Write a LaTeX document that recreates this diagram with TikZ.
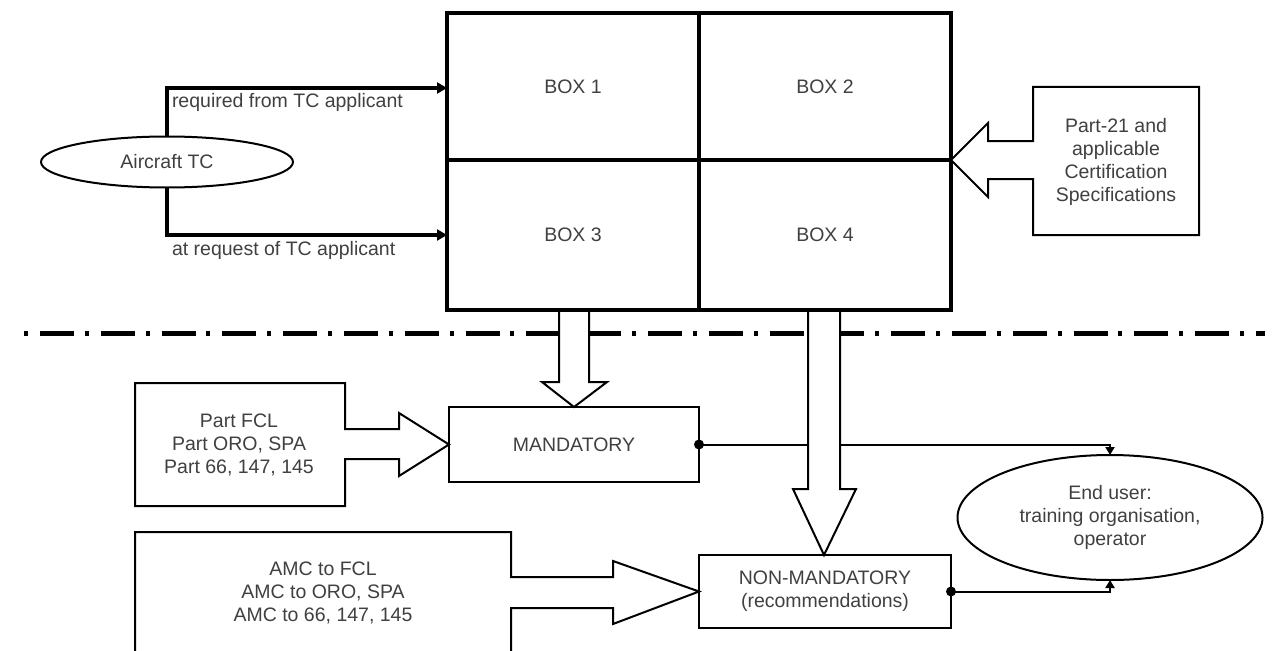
\documentclass[tikz,border=0pt]{standalone}
\usepackage{fontspec}
\setmainfont{Liberation Sans}
\usetikzlibrary{arrows.meta,shapes.geometric,backgrounds}
\begin{document}
\begin{tikzpicture}[x=1pt,y=-1pt,
  txt/.style={text=black!75,font=\fontsize{19.5}{22.7}\selectfont,align=center,inner sep=0pt,outer sep=0pt},
  cell/.style={draw,line width=3.5pt,minimum width=252pt,txt},
  thinbox/.style={draw,line width=2pt,txt},
  blockshape/.style={draw,line width=2pt,fill=white,line join=miter},
  tcarrow/.style={line width=3.5pt,-{Triangle[length=10pt,width=11pt]}},
  outarrow/.style={line width=2pt,-{Triangle[length=8pt,width=9pt]}},
  sepline/.style={line width=5pt,dash pattern=on 4pt off 12pt on 34pt off 10.8pt}
]
\useasboundingbox (0,0) rectangle (1273,650);

% --- big box (four cells)
\node[cell,minimum height=147pt] (b1) at (573,86.5) {BOX 1};
\node[cell,minimum height=147pt] (b2) at (825,86.5) {BOX 2};
\node[cell,minimum height=150pt] (b3) at (573,235) {BOX 3};
\node[cell,minimum height=150pt] (b4) at (825,235) {BOX 4};

% --- Aircraft TC
\node[draw,ellipse,line width=2pt,minimum width=252pt,minimum height=51pt,txt] (ac) at (167,162) {Aircraft TC};
\coordinate (up) at (167,88);
\coordinate (dn) at (167,235);
\draw[tcarrow] (ac.north) -- (up) -- (b1.west |- up);
\draw[tcarrow] (ac.south) -- (dn) -- (b3.west |- dn);
\node[txt,anchor=west] (lreq) at (172,102) {required from TC applicant};
\node[txt,anchor=west] (lat) at (172,250) {at request of TC applicant};

% --- lower boxes
\node[thinbox,minimum width=250pt,minimum height=75pt] (mand) at (574,444.5) {MANDATORY};
\node[thinbox,minimum width=252pt,minimum height=73pt] (nmand) at (825,591.5) {NON-MANDATORY\\(recommendations)};
\node[draw,ellipse,line width=2pt,minimum width=305pt,minimum height=125pt,txt] (eu) at (1110,517.5) {End user:\\training organisation,\\operator};

% --- Part-21 box with block arrow
\draw[blockshape] (1033,141) -- (1033,87) -- (1199,87) -- (1199,235) -- (1033,235) -- (1033,179)
  -- (988,179) -- (988,197) -- (b2.south east) -- (988,123) -- (988,141) -- cycle;
\node[txt] (p21) at (1116,162) {Part-21 and\\applicable\\Certification\\Specifications};

% --- Part FCL box with block arrow
\draw[blockshape] (345,429) -- (345,383) -- (135,383) -- (135,506) -- (345,506) -- (345,459)
  -- (399,459) -- (399,476) -- (mand.west) -- (399,413) -- (399,429) -- cycle;
\node[txt] (pfcl) at (239,445) {Part FCL\\Part ORO, SPA\\Part 66, 147, 145};

% --- AMC box with block arrow
\draw[blockshape] (511,577) -- (511,532) -- (135,532) -- (135,662) -- (511,662) -- (511,608)
  -- (613,608) -- (613,624) -- (nmand.west) -- (613,561) -- (613,577) -- cycle;
\node[txt] (amc) at (323,593) {AMC to FCL\\AMC to ORO, SPA\\AMC to 66, 147, 145};

% --- background: separator line and output connectors
\begin{pgfonlayer}{background}
  \draw[sepline] (24,333) -- (1265,333);
  \draw[outarrow] (mand.east) -- (mand.east -| eu.north) -- (eu.north);
  \draw[outarrow] (nmand.east) -- (nmand.east -| eu.south) -- (eu.south);
\end{pgfonlayer}
\fill (mand.east) circle[radius=5pt];
\fill (nmand.east) circle[radius=5pt];

% --- block arrows down from the big box
\begin{scope}[shift={(mand.north)}]
  \filldraw[blockshape] (-15,-95) -- (-15,-25) -- (-32,-25) -- (0,0) -- (33,-25) -- (15,-25) -- (15,-95);
\end{scope}
\begin{scope}[shift={(nmand.north)}]
  \filldraw[blockshape] (-17,-243) -- (-17,-66) -- (-32,-66) -- (-1,0) -- (31,-66) -- (15,-66) -- (15,-243);
\end{scope}
\end{tikzpicture}
\end{document}
